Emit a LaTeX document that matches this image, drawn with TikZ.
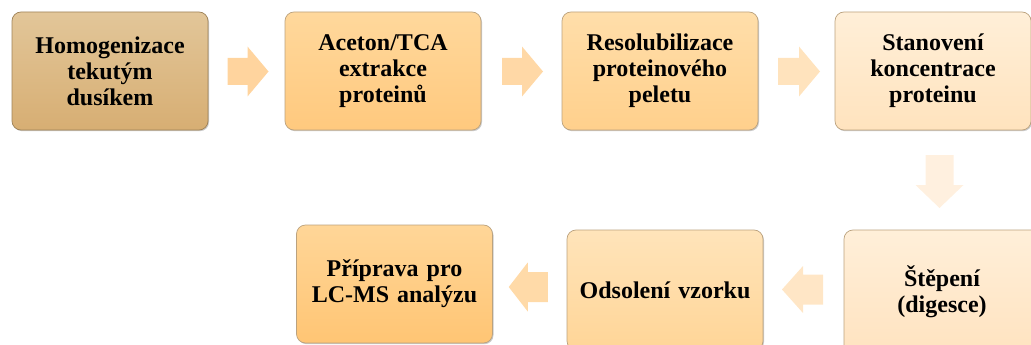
\documentclass[tikz,border=0pt]{standalone}
\usepackage{fontspec}
\setmainfont{Liberation Serif}
\usetikzlibrary{calc,shadows}
\definecolor{bA1}{HTML}{E2C699}\definecolor{bA2}{HTML}{D7AE73}
\definecolor{bB1}{HTML}{FFD89C}\definecolor{bB2}{HTML}{FFC97E}
\definecolor{bC1}{HTML}{FFDEAA}\definecolor{bC2}{HTML}{FFD08C}
\definecolor{bD1}{HTML}{FFEFD8}\definecolor{bD2}{HTML}{FFE3BE}
\definecolor{bE1}{HTML}{FFEFD9}\definecolor{bE2}{HTML}{FFE3C0}
\definecolor{bF1}{HTML}{FFE4BA}\definecolor{bF2}{HTML}{FFD597}
\definecolor{bG1}{HTML}{FFD698}\definecolor{bG2}{HTML}{FFC574}
\definecolor{aA}{HTML}{FFD49E}\definecolor{aB}{HTML}{FFD8A6}
\definecolor{aC}{HTML}{FFE3BD}\definecolor{aD}{HTML}{FFF0DF}
\definecolor{aE}{HTML}{FFE6C6}\definecolor{aF}{HTML}{FFDAA8}
\definecolor{edgeA}{HTML}{9E8258}\definecolor{edgeB}{HTML}{BBA27E}
\newcommand{\blockarrow}[7]{%
  \fill[#2, shift={(#1)}, rotate=#3]
    ({-#4/2},{-#6}) -- ({#4/2-#5},{-#6}) -- ({#4/2-#5},{-#7}) -- ({#4/2},0)
    -- ({#4/2-#5},{#7}) -- ({#4/2-#5},{#6}) -- ({-#4/2},{#6}) -- cycle;}
\begin{document}
\begin{tikzpicture}[x=1pt,y=-1pt,
  stepbox/.style={draw=edgeB, line width=0.7pt, rounded corners=9pt,
    minimum width=196pt, align=center, text width=188pt, inner sep=0pt,
    font=\fontsize{24}{26}\selectfont\bfseries,
    drop shadow={shadow xshift=1pt, shadow yshift=-1.2pt, opacity=0.35, fill=black!60}}]
\useasboundingbox (0,0) rectangle (1031,345);
\clip (0,0) rectangle (1031,345);
\node[stepbox, draw=edgeA, top color=bA1, bottom color=bA2, minimum height=118pt] (b1) at (110,71) {Homogenizace\\tekutým\\dusíkem};
\node[stepbox, top color=bB1, bottom color=bB2, minimum height=118pt] (b2) at (383,71) {Aceton/TCA\\extrakce\\proteinů};
\node[stepbox, top color=bC1, bottom color=bC2, minimum height=118pt] (b3) at (660,71) {Resolubilizace\\proteinového\\peletu};
\node[stepbox, top color=bD1, bottom color=bD2, minimum height=118pt] (b4) at (933,71) {Stanovení\\koncentrace\\proteinu};
\node[stepbox, top color=bE1, bottom color=bE2, minimum height=124pt] (b5) at (942,292) {Štěpení\\(digesce)};
\node[stepbox, top color=bF1, bottom color=bF2, minimum height=120pt] (b6) at (665,290) {Odsolení vzorku};
\node[stepbox, top color=bG1, bottom color=bG2, minimum height=118pt] (b7) at (394.5,284) {Příprava pro\\LC-MS analýzu};
\coordinate (a1) at ($(b1.east)!0.5!(b2.west)+(1.5,0.5)$);
\coordinate (a2) at ($(b2.east)!0.5!(b3.west)+(1,0.5)$);
\coordinate (a3) at ($(b3.east)!0.5!(b4.west)+(2.5,0.5)$);
\coordinate (a4) at ($(b4.south)!0.5!(b5.north)+(2,1.5)$);
\coordinate (a5) at ($(b6.east)!0.5!(b5.west)+(-1,-1.5)$);
\coordinate (a6) at ($(b7.east)!0.5!(b6.west)+(-1.5,0)$);
\blockarrow{a1}{aA}{0}{41}{21}{13.5}{25}
\blockarrow{a2}{aB}{0}{41}{21}{13.5}{25}
\blockarrow{a3}{aC}{0}{42}{21}{13.5}{25}
\blockarrow{a4}{aD}{-90}{53}{23}{14}{24}
\blockarrow{a5}{aE}{180}{41}{21}{15}{23.5}
\blockarrow{a6}{aF}{180}{39}{19}{15}{24.5}
\end{tikzpicture}
\end{document}
